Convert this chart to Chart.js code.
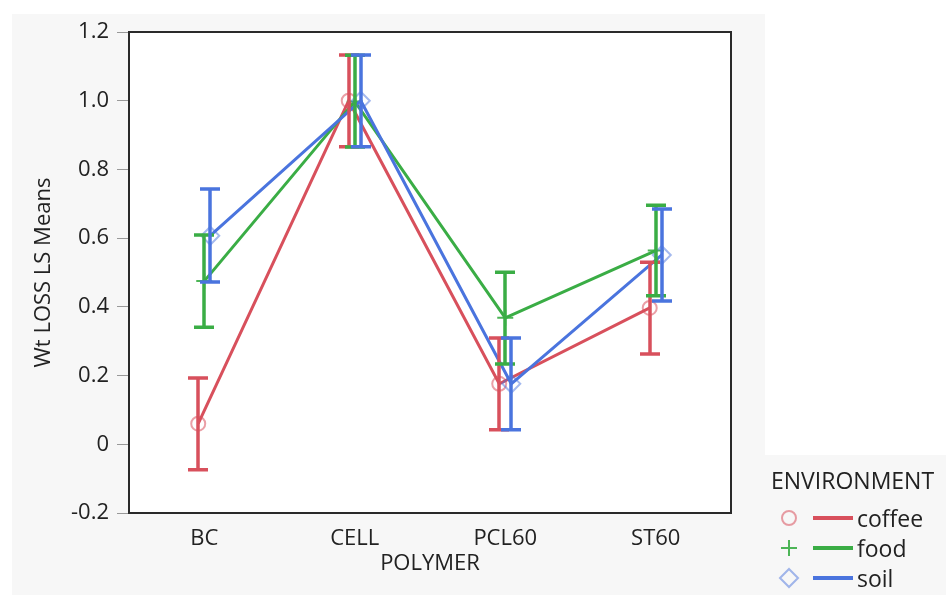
<!DOCTYPE html>
<html>
<head>
<meta charset="utf-8">
<script src="https://cdn.jsdelivr.net/npm/chart.js@4/dist/chart.umd.min.js"></script>
<style>
  html, body { margin: 0; padding: 0; background: #fff; }
  #wrap { position: relative; width: 946px; height: 595px; }
  #legend {
    position: absolute; left: 771px; top: 464px;
    font-family: 'Open Sans', sans-serif; font-size: 23px; color: #222;
  }
  #legend .title { height: 32px; line-height: 32px; margin-bottom: 7px; }
  #legend .row { display: flex; align-items: center; height: 30px; line-height: 30px; }
  #legend svg { display: block; margin-right: 2px; }
</style>
</head>
<body>
<div id="wrap">
  <canvas id="lsmeans" width="946" height="595"></canvas>
  <div id="legend"></div>
</div>
<script>
// LS means by polymer, one series per environment
const categories = ['BC', 'CELL', 'PCL60', 'ST60'];
const environments = ['coffee', 'food', 'soil'];

const coffeeMeans = [0.060, 1.000, 0.176, 0.397];
const coffeeLower = [-0.074, 0.866, 0.042, 0.263];
const coffeeUpper = [0.193, 1.133, 0.309, 0.530];

const foodMeans = [0.475, 0.998, 0.368, 0.564];
const foodLower = [0.341, 0.865, 0.234, 0.432];
const foodUpper = [0.609, 1.132, 0.501, 0.696];

const soilMeans = [0.607, 1.000, 0.176, 0.551];
const soilLower = [0.472, 0.866, 0.042, 0.417];
const soilUpper = [0.743, 1.133, 0.309, 0.685];

const yTicks = [-0.2, 0, 0.2, 0.4, 0.6, 0.8, 1.0, 1.2];

const colors = { coffee: '#d8505c', food: '#3aad45', soil: '#4a74de' };
const markerColors = {
  coffee: 'rgba(216,80,92,0.55)',
  food: 'rgba(58,173,69,0.9)',
  soil: 'rgba(74,116,222,0.5)'
};
// small horizontal dodge so the three series don't sit on top of each other
const dodge = { coffee: -0.04, food: 0, soil: 0.04 };

const FONT = { family: "'Open Sans', sans-serif", size: 22 };
const TEXT = '#222';

function series(name, means, lower, upper, style, radius, order) {
  return {
    label: name,
    data: means.map((m, i) => ({ x: i + dodge[name], y: m })),
    errLow: lower,
    errHigh: upper,
    borderColor: colors[name],
    borderWidth: 3,
    tension: 0,
    pointStyle: style,
    pointRadius: radius,
    pointBorderWidth: 2,
    pointBorderColor: markerColors[name],
    pointBackgroundColor: 'rgba(0,0,0,0)',
    order: order
  };
}

const panelBackground = {
  id: 'panelBackground',
  beforeDraw(chart) {
    const ctx = chart.ctx;
    ctx.save();
    ctx.fillStyle = '#fff';
    ctx.fillRect(0, 0, chart.width, chart.height);
    ctx.fillStyle = '#f7f7f7';
    ctx.beginPath();
    ctx.moveTo(12, 14);
    ctx.lineTo(765, 14);
    ctx.lineTo(765, 455);
    ctx.lineTo(chart.width, 455);
    ctx.lineTo(chart.width, chart.height);
    ctx.lineTo(12, chart.height);
    ctx.closePath();
    ctx.fill();
    const a = chart.chartArea;
    ctx.fillStyle = '#fff';
    ctx.fillRect(a.left, a.top, a.right - a.left, a.bottom - a.top);
    ctx.restore();
  },
  beforeDatasetsDraw(chart) {
    const { ctx, chartArea: a } = chart;
    ctx.save();
    ctx.strokeStyle = '#2a2a2a';
    ctx.lineWidth = 2;
    ctx.strokeRect(a.left, a.top, a.right - a.left, a.bottom - a.top);
    ctx.restore();
  }
};

const errorBars = {
  id: 'errorBars',
  afterDatasetsDraw(chart) {
    const { ctx, scales: { x, y } } = chart;
    ctx.save();
    ctx.lineWidth = 3.5;
    chart.data.datasets.forEach(ds => {
      ctx.strokeStyle = ds.borderColor;
      ds.data.forEach((p, i) => {
        const px = Math.round(x.getPixelForValue(p.x));
        const top = y.getPixelForValue(ds.errHigh[i]);
        const bot = y.getPixelForValue(ds.errLow[i]);
        ctx.beginPath();
        ctx.moveTo(px, top);
        ctx.lineTo(px, bot);
        ctx.moveTo(px - 10, top);
        ctx.lineTo(px + 10, top);
        ctx.moveTo(px - 10, bot);
        ctx.lineTo(px + 10, bot);
        ctx.stroke();
      });
    });
    ctx.restore();
  }
};

new Chart(document.getElementById('lsmeans'), {
  type: 'line',
  data: {
    datasets: [
      series('coffee', coffeeMeans, coffeeLower, coffeeUpper, 'circle', 7, 2),
      series('food', foodMeans, foodLower, foodUpper, 'cross', 8, 1),
      series('soil', soilMeans, soilLower, soilUpper, 'rectRot', 9, 0)
    ]
  },
  options: {
    responsive: false,
    animation: false,
    devicePixelRatio: 1,
    layout: { padding: { left: 27, top: 32, right: 215, bottom: 14 } },
    plugins: { legend: { display: false }, tooltip: { enabled: false } },
    scales: {
      x: {
        type: 'linear',
        min: -0.5,
        max: 3.5,
        afterBuildTicks: s => { s.ticks = categories.map((c, i) => ({ value: i })); },
        afterFit: s => { s.height = 68; },
        ticks: {
          callback: v => categories[v],
          font: FONT, color: TEXT, padding: 5,
          maxRotation: 0, autoSkip: false
        },
        grid: { display: false },
        border: { display: false },
        title: { display: true, text: 'POLYMER', font: FONT, color: TEXT, padding: { top: 0, bottom: 4 } }
      },
      y: {
        min: -0.2,
        max: 1.2,
        afterBuildTicks: s => { s.ticks = yTicks.map(v => ({ value: v })); },
        afterFit: s => { s.width = 102; },
        ticks: {
          callback: v => (Math.abs(v) < 1e-9 ? '0' : v.toFixed(1)),
          font: FONT, color: TEXT, padding: 8
        },
        grid: { drawOnChartArea: false, drawTicks: true, tickLength: 12, color: '#999', lineWidth: 1 },
        border: { display: false },
        title: { display: true, text: 'Wt LOSS LS Means', font: FONT, color: TEXT, padding: { top: 4, bottom: 0 } }
      }
    }
  },
  plugins: [panelBackground, errorBars]
});

// legend: marker, line swatch and label for each environment
const legend = document.getElementById('legend');
const markerSvg = {
  coffee: '<circle cx="18" cy="15" r="7" fill="none" stroke="' + markerColors.coffee + '" stroke-width="2"/>',
  food: '<path d="M18 7 V23 M10 15 H26" stroke="' + markerColors.food + '" stroke-width="2"/>',
  soil: '<path d="M18 6 L27 15 L18 24 L9 15 Z" fill="none" stroke="' + markerColors.soil + '" stroke-width="2"/>'
};
let html = '<div class="title">ENVIRONMENT</div>';
environments.forEach(name => {
  html += '<div class="row"><svg width="84" height="30">' + markerSvg[name] +
    '<line x1="42" y1="15" x2="82" y2="15" stroke="' + colors[name] + '" stroke-width="4"/></svg>' +
    '<span>' + name + '</span></div>';
});
legend.innerHTML = html;
</script>
</body>
</html>
